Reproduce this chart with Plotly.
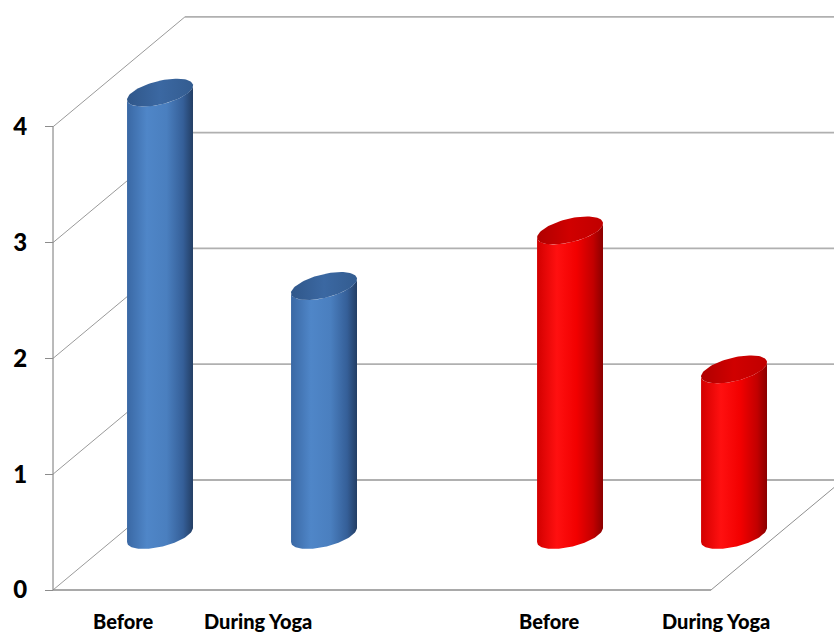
import numpy as np
import plotly.graph_objects as go

# ---- data -------------------------------------------------------------
categories = ["Before", "During Yoga", "Before", "During Yoga"]
values = [3.82, 2.15, 2.63, 1.43]
group_index = [0, 0, 1, 1]
y_ticks = [0, 1, 2, 3, 4]
y_tick_labels = ["0", "1", "2", "3", "4"]

# ---- layout constants (axis units) -----------------------------------
W, H = 834, 635
X_RANGE = [-0.5732, 4.512]
Y_RANGE = [-0.3886, 5.095]
DEPTH_X, DEPTH_Y = 0.805, 0.95       # oblique offset from front to back plane
FLOOR_L, FLOOR_R = -0.25, 3.762      # front floor edge
GROUP_GAP = 0.5
BAR_DEPTH = 0.5                      # cylinders stand half way back
RAD_X = 0.173                        # cylinder radius along x
RAD_DX, RAD_DY = 0.1024, 0.1207      # cylinder radius along depth
LABEL_SHIFT = [0.18, 0.0, 0.28, 0.29]
LABEL_Y = -0.268

BODY_SCALES = [
    [[0, "#3a68a4"], [0.3, "#4f86c8"], [0.6, "#4a7fbf"], [0.85, "#355f98"], [1, "#233e64"]],
    [[0, "#d20000"], [0.3, "#ff1010"], [0.6, "#f20000"], [0.85, "#c20000"], [1, "#8a0000"]],
]
CAP_SCALES = [
    [[0, "#30578a"], [0.5, "#3b68a2"], [1, "#335c90"]],
    [[0, "#b00000"], [0.5, "#d00000"], [1, "#c00000"]],
]

slots = [i + GROUP_GAP * g for i, g in enumerate(group_index)]

fig = go.Figure()

theta0 = np.arctan2(RAD_DX, RAD_X)


def ellipse(cx, cy, th):
    return (cx + RAD_X * np.cos(th) + RAD_DX * np.sin(th),
            cy + RAD_DY * np.sin(th))


for s, v, g in zip(slots, values, group_index):
    cx = s + BAR_DEPTH * DEPTH_X
    cy0 = BAR_DEPTH * DEPTH_Y
    cy1 = cy0 + v
    front = np.linspace(theta0 + np.pi, theta0 + 2 * np.pi, 60)
    bx, by = ellipse(cx, cy0, front)
    tx, ty = ellipse(cx, cy1, front[::-1])
    fig.add_trace(go.Scatter(
        x=np.concatenate([bx, tx, bx[:1]]),
        y=np.concatenate([by, ty, by[:1]]),
        mode="lines", line=dict(width=0), fill="toself",
        fillgradient=dict(type="horizontal", colorscale=BODY_SCALES[g]),
        hoverinfo="skip", showlegend=False))
    full = np.linspace(0, 2 * np.pi, 90)
    capx, capy = ellipse(cx, cy1, full)
    fig.add_trace(go.Scatter(
        x=capx, y=capy, mode="lines", line=dict(width=0), fill="toself",
        fillgradient=dict(type="horizontal", colorscale=CAP_SCALES[g]),
        hoverinfo="skip", showlegend=False))

shapes = []
wall_grey = "#b0b0b0"
edge_grey = "#8c8c8c"
# back wall grid lines and top edge
for t in y_ticks:
    shapes.append(dict(type="line", xref="x", yref="y", layer="below",
                       x0=FLOOR_L + DEPTH_X, x1=X_RANGE[1] + 0.3,
                       y0=t + DEPTH_Y, y1=t + DEPTH_Y,
                       line=dict(color=wall_grey, width=1.8)))
# side wall diagonals
for t in y_ticks:
    shapes.append(dict(type="line", xref="x", yref="y", layer="below",
                       x0=FLOOR_L, x1=FLOOR_L + DEPTH_X,
                       y0=t, y1=t + DEPTH_Y,
                       line=dict(color="#9a9a9a", width=1)))
# front vertical edge
shapes.append(dict(type="line", xref="x", yref="y", layer="below",
                   x0=FLOOR_L, x1=FLOOR_L, y0=0, y1=y_ticks[-1],
                   line=dict(color=edge_grey, width=1.2)))
# floor front and right edge
shapes.append(dict(type="line", xref="x", yref="y", layer="below",
                   x0=FLOOR_L, x1=FLOOR_R, y0=0, y1=0,
                   line=dict(color=edge_grey, width=1.4)))
shapes.append(dict(type="line", xref="x", yref="y", layer="below",
                   x0=FLOOR_R, x1=FLOOR_R + DEPTH_X, y0=0, y1=DEPTH_Y,
                   line=dict(color="#8f8f8f", width=1)))

annotations = []
for s, name, shift in zip(slots, categories, LABEL_SHIFT):
    annotations.append(dict(x=s + shift, y=LABEL_Y, xref="x", yref="y",
                            text=name, showarrow=False,
                            xanchor="center", yanchor="middle",
                            font=dict(family="Lato", size=20, color="#000000", weight=900)))

axis_pos = (FLOOR_L - X_RANGE[0]) / (X_RANGE[1] - X_RANGE[0])

fig.update_layout(
    width=W, height=H,
    margin=dict(l=0, r=0, t=0, b=0),
    paper_bgcolor="white", plot_bgcolor="white",
    shapes=shapes, annotations=annotations,
    xaxis=dict(range=X_RANGE, visible=False, fixedrange=True),
    yaxis=dict(range=Y_RANGE, anchor="free", position=axis_pos,
               tickmode="array", tickvals=y_ticks, ticktext=y_tick_labels,
               ticks="outside", ticklen=8, tickcolor=edge_grey, tickwidth=1,
               ticklabelstandoff=13,
               tickfont=dict(family="Lato", size=24, color="#000000", weight=900),
               showgrid=False, zeroline=False, showline=False, fixedrange=True),
)

fig.write_html("out.html")
